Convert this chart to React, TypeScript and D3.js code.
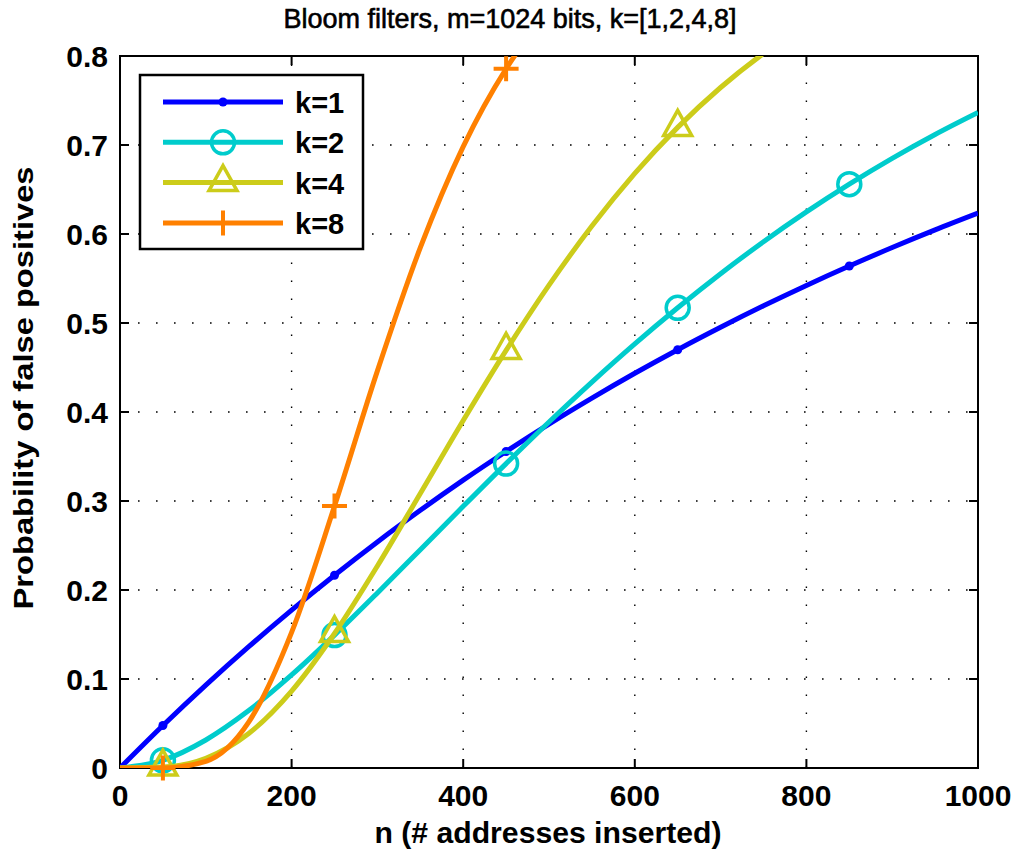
import * as d3 from 'd3'

// n = number of addresses inserted (m = 1024 bits)
const nValues = [0, 50, 100, 150, 200, 250, 300, 350, 400, 450, 500, 550, 600, 650, 700, 750, 800, 850, 900, 950, 1000]

// probability of false positives
const k1 = [0, 0.0477, 0.0931, 0.1363, 0.1774, 0.2166, 0.254, 0.2895, 0.3234, 0.3556, 0.3864, 0.4156, 0.4435, 0.47, 0.4952, 0.5193, 0.5422, 0.564, 0.5848, 0.6046, 0.6234]
const k2 = [0, 0.0087, 0.0315, 0.0645, 0.1046, 0.1493, 0.1967, 0.2453, 0.294, 0.342, 0.3887, 0.4336, 0.4765, 0.5171, 0.5554, 0.5913, 0.6248, 0.656, 0.685, 0.7118, 0.7365]
const k4 = [0, 0.001, 0.0109, 0.0387, 0.0864, 0.1511, 0.227, 0.3084, 0.3904, 0.4692, 0.5425, 0.6089, 0.668, 0.7198, 0.7646, 0.8029, 0.8356, 0.8631, 0.8863, 0.9058, 0.922]
const k8 = [0, 0.0001, 0.0075, 0.0515, 0.1524, 0.2943, 0.4462, 0.5846, 0.6982, 0.7856, 0.85, 0.8962, 0.9287, 0.9512, 0.9668, 0.9774, 0.9847, 0.9896, 0.993, 0.9952, 0.9968]

const markerN = [50, 250, 450, 650, 850]
const xTicks = [0, 200, 400, 600, 800, 1000]
const yTicks = [0, 0.1, 0.2, 0.3, 0.4, 0.5, 0.6, 0.7, 0.8]

const series = [
  { label: 'k=1', color: '#0000ff', values: k1, marker: 'dot' },
  { label: 'k=2', color: '#00cccc', values: k2, marker: 'circle' },
  { label: 'k=4', color: '#cccc1a', values: k4, marker: 'triangle' },
  { label: 'k=8', color: '#ff8000', values: k8, marker: 'plus' },
]

const W = 1019
const H = 859
const left = 120
const right = 978
const top = 56
const bottom = 768
const font = 'Liberation Sans, Arial, Helvetica, sans-serif'

function Marker({ type, cx, cy, color }: { type: string; cx: number; cy: number; color: string }) {
  if (type === 'dot') return <circle cx={cx} cy={cy} r={4.5} fill={color} />
  if (type === 'circle') return <circle cx={cx} cy={cy} r={11.5} fill="none" stroke={color} strokeWidth={3.5} />
  if (type === 'triangle')
    return (
      <path
        d={`M${cx},${cy - 17} L${cx + 14},${cy + 8} L${cx - 14},${cy + 8} Z`}
        fill="none"
        stroke={color}
        strokeWidth={3.5}
      />
    )
  return (
    <path
      d={`M${cx - 12.5},${cy} H${cx + 12.5} M${cx},${cy - 12.5} V${cy + 12.5}`}
      stroke={color}
      strokeWidth={4}
    />
  )
}

export default function App() {
  const x = d3.scaleLinear().domain([0, 1000]).range([left, right])
  const y = d3.scaleLinear().domain([0, 0.8]).range([bottom, top])
  const line = d3
    .line<number>()
    .x((_, i) => x(nValues[i]))
    .y((d) => y(d))
    .curve(d3.curveMonotoneX)

  const legendX = 140
  const legendY = 75
  const rowY = (i: number) => legendY + 27 + i * 40.3

  return (
    <svg width={W} height={H} style={{ position: 'absolute', left: 0, top: 0, background: '#fff' }}>
      <defs>
        <clipPath id="plot">
          <rect x={left} y={top} width={right - left} height={bottom - top} />
        </clipPath>
      </defs>
      <rect x={0} y={0} width={W} height={H} fill="#fff" />

      {/* grid */}
      <g stroke="#000" strokeWidth={1.4} strokeDasharray="1.6,16.4">
        {xTicks.slice(1, -1).map((t) => (
          <line key={'gx' + t} x1={x(t)} x2={x(t)} y1={bottom} y2={top} />
        ))}
        {yTicks.slice(1, -1).map((t) => (
          <line key={'gy' + t} x1={left} x2={right} y1={y(t)} y2={y(t)} />
        ))}
      </g>

      {/* ticks */}
      <g stroke="#000" strokeWidth={2}>
        {xTicks.map((t) => (
          <g key={'tx' + t}>
            <line x1={x(t)} x2={x(t)} y1={bottom} y2={bottom - 9} />
            <line x1={x(t)} x2={x(t)} y1={top} y2={top + 9} />
          </g>
        ))}
        {yTicks.map((t) => (
          <g key={'ty' + t}>
            <line x1={left} x2={left + 9} y1={y(t)} y2={y(t)} />
            <line x1={right} x2={right - 9} y1={y(t)} y2={y(t)} />
          </g>
        ))}
      </g>
      <rect x={left} y={top} width={right - left} height={bottom - top} fill="none" stroke="#000" strokeWidth={2} />

      {/* tick labels */}
      <g fontFamily={font} fontWeight="bold" fontSize={30} fill="#000">
        {xTicks.map((t) => (
          <text key={'lx' + t} x={x(t)} y={bottom + 38} textAnchor="middle">
            {t}
          </text>
        ))}
        {yTicks.map((t) => (
          <text key={'ly' + t} x={left - 12} y={y(t) + 11} textAnchor="end">
            {t === 0 ? '0' : t.toFixed(1)}
          </text>
        ))}
      </g>

      {/* series */}
      {series.map((s) => (
        <g key={s.label}>
          <path d={line(s.values) ?? ''} fill="none" stroke={s.color} strokeWidth={5} clipPath="url(#plot)" />
          {nValues.map((n, i) =>
            markerN.includes(n) && s.values[i] <= 0.8 ? (
              <Marker key={n} type={s.marker} cx={x(n)} cy={y(s.values[i])} color={s.color} />
            ) : null
          )}
        </g>
      ))}

      {/* legend */}
      <rect x={legendX} y={legendY} width={223} height={174} fill="#fff" stroke="#000" strokeWidth={2.5} />
      {series.map((s, i) => (
        <g key={'leg' + s.label}>
          <line x1={163} x2={283} y1={rowY(i)} y2={rowY(i)} stroke={s.color} strokeWidth={5} />
          <Marker type={s.marker} cx={223} cy={rowY(i)} color={s.color} />
          <text x={295} y={rowY(i) + 11} fontFamily={font} fontWeight="bold" fontSize={29} fill="#000">
            {s.label}
          </text>
        </g>
      ))}

      {/* titles */}
      <text
        x={510}
        y={28}
        textAnchor="middle"
        fontFamily={font}
        fontSize={27}
        fill="#000"
        stroke="#000"
        strokeWidth={0.6}
      >
        Bloom filters, m=1024 bits, k=[1,2,4,8]
      </text>
      <text
        x={548}
        y={843}
        textAnchor="middle"
        fontFamily={font}
        fontWeight="bold"
        fontSize={29}
        textLength={347}
        lengthAdjust="spacingAndGlyphs"
        fill="#000"
      >
        n (# addresses inserted)
      </text>
      <text
        transform={`translate(33,388) rotate(-90)`}
        textAnchor="middle"
        fontFamily={font}
        fontWeight="bold"
        fontSize={28}
        textLength={443}
        lengthAdjust="spacingAndGlyphs"
        fill="#000"
      >
        Probability of false positives
      </text>
    </svg>
  )
}
